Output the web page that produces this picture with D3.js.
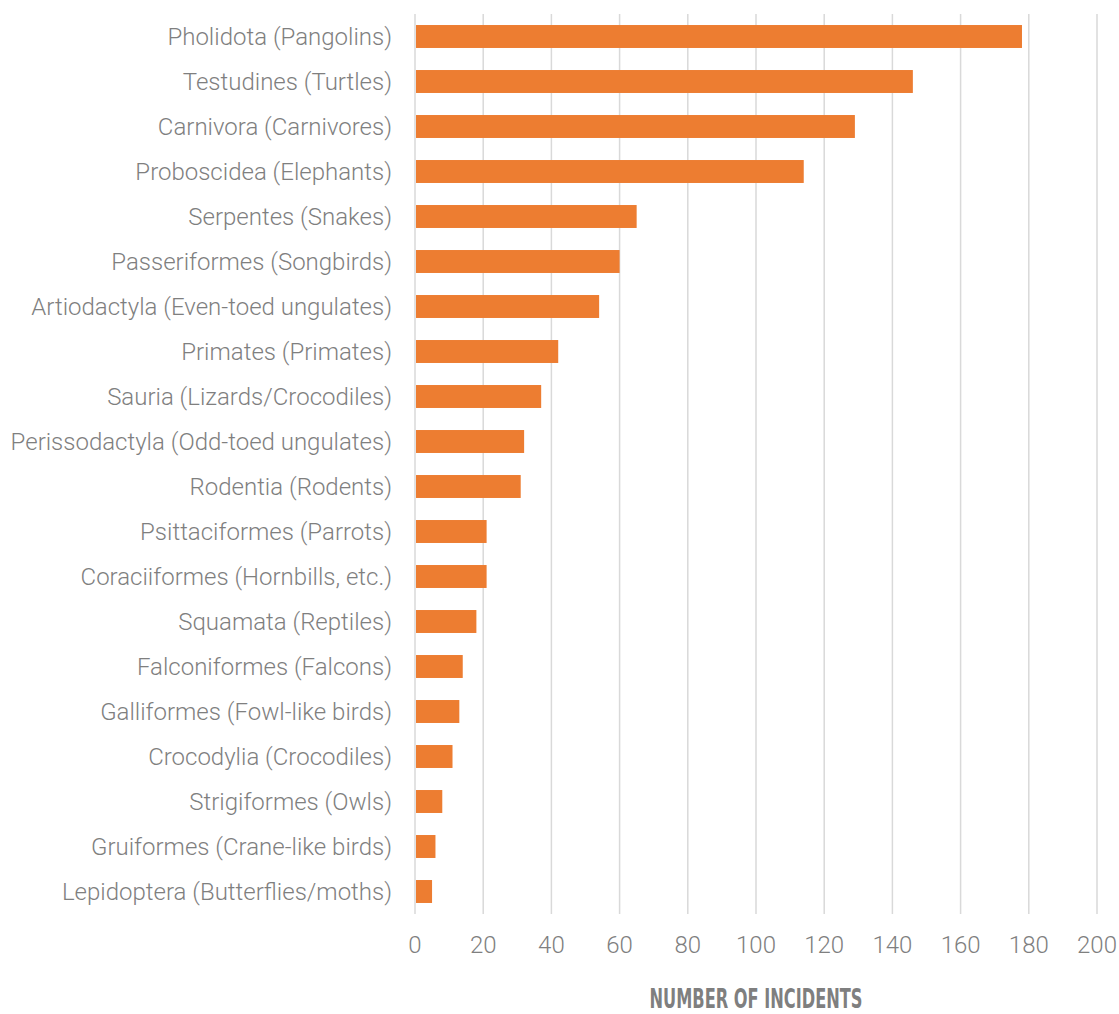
<html>
<head>
<script src="https://d3js.org/d3.v7.min.js"></script>
<style>
  body { margin: 0; background: #fff; }
  text { font-family: Roboto, "Noto Sans", sans-serif; font-weight: 300; fill: #7f7f7f; }
</style>
</head>
<body>
<svg id="svg" width="1119" height="1014"></svg>
<script>
var categories = [
  "Pholidota (Pangolins)",
  "Testudines (Turtles)",
  "Carnivora (Carnivores)",
  "Proboscidea (Elephants)",
  "Serpentes (Snakes)",
  "Passeriformes (Songbirds)",
  "Artiodactyla (Even-toed ungulates)",
  "Primates (Primates)",
  "Sauria (Lizards/Crocodiles)",
  "Perissodactyla (Odd-toed ungulates)",
  "Rodentia (Rodents)",
  "Psittaciformes (Parrots)",
  "Coraciiformes (Hornbills, etc.)",
  "Squamata (Reptiles)",
  "Falconiformes (Falcons)",
  "Galliformes (Fowl-like birds)",
  "Crocodylia (Crocodiles)",
  "Strigiformes (Owls)",
  "Gruiformes (Crane-like birds)",
  "Lepidoptera (Butterflies/moths)"
];
var incidents = [178, 146, 129, 114, 65, 60, 54, 42, 37, 32, 31, 21, 21, 18, 14, 13, 11, 8, 6, 5];
var xTicks = [0, 20, 40, 60, 80, 100, 120, 140, 160, 180, 200];
var axisTitle = "NUMBER OF INCIDENTS";

var svg = d3.select("#svg");
var plotLeft = 415, plotRight = 1097, plotTop = 14, plotBottom = 914;

var x = d3.scaleLinear().domain([0, 200]).range([plotLeft, plotRight]);
var y = d3.scaleBand().domain(categories).range([plotTop, plotBottom]).paddingInner(0.49).paddingOuter(0.245);

// gridlines
svg.append("g").selectAll("line").data(xTicks).enter().append("line")
  .attr("x1", function(d){ return x(d); })
  .attr("x2", function(d){ return x(d); })
  .attr("y1", plotTop).attr("y2", plotBottom)
  .attr("stroke", "#d9d9d9").attr("stroke-width", 1.5);

// bars
svg.append("g").selectAll("rect").data(incidents).enter().append("rect")
  .attr("x", x(0) + 1)
  .attr("y", function(d, i){ return y(categories[i]); })
  .attr("width", function(d){ return x(d) - x(0) - 1; })
  .attr("height", y.bandwidth())
  .attr("fill", "#ED7D31");

// category labels
svg.append("g").selectAll("text").data(categories).enter().append("text")
  .attr("x", plotLeft - 23)
  .attr("y", function(d){ return y(d) + y.bandwidth() / 2; })
  .attr("dy", "0.35em")
  .attr("text-anchor", "end")
  .style("font-size", "24px")
  .text(function(d){ return d; });

// x tick labels
svg.append("g").selectAll("text").data(xTicks).enter().append("text")
  .attr("x", function(d){ return x(d); })
  .attr("y", 953)
  .attr("text-anchor", "middle")
  .style("font-size", "24px")
  .text(function(d){ return d; });

// axis title
svg.append("text")
  .attr("x", (plotLeft + plotRight) / 2)
  .attr("y", 1008)
  .attr("text-anchor", "middle")
  .attr("textLength", 213)
  .attr("lengthAdjust", "spacingAndGlyphs")
  .style("font-family", "'Liberation Sans Narrow', 'DejaVu Sans Condensed', sans-serif")
  .style("font-weight", "700")
  .style("font-size", "26px")
  .style("fill", "#7f7f7f")
  .text(axisTitle);
</script>
</body>
</html>
